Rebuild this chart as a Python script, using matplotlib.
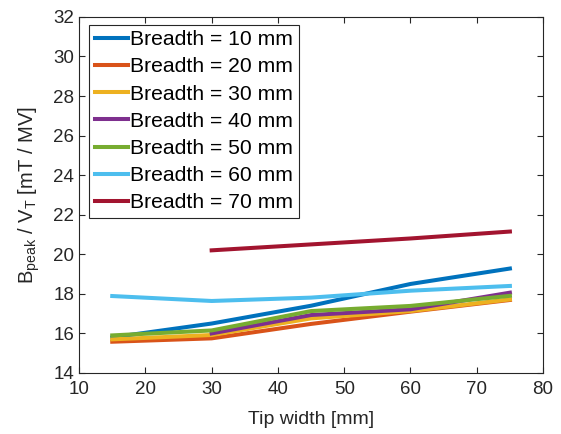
import numpy as np
import matplotlib
matplotlib.use("Agg")
import matplotlib.pyplot as plt

plt.rcParams['font.family'] = ['Liberation Sans', 'DejaVu Sans']
plt.rcParams['mathtext.fontset'] = 'custom'
plt.rcParams['mathtext.rm'] = 'Liberation Sans'
plt.rcParams['mathtext.it'] = 'Liberation Sans:italic'

# data
tip_width = [15, 30, 45, 60, 75]
b10 = [15.8, 16.5, 17.4, 18.5, 19.28]
b20 = [15.58, 15.75, 16.48, 17.1, 17.69]
b30 = [15.7, 15.92, 16.76, 17.13, 17.72]
b40 = [None, 16.0, 16.93, 17.22, 18.06]
b50 = [15.9, 16.15, 17.13, 17.39, 17.9]
b60 = [17.89, 17.64, 17.81, 18.16, 18.4]
b70 = [None, 20.2, 20.5, 20.8, 21.15]
series = [b10, b20, b30, b40, b50, b60, b70]
labels = ['Breadth = 10 mm', 'Breadth = 20 mm', 'Breadth = 30 mm',
          'Breadth = 40 mm', 'Breadth = 50 mm', 'Breadth = 60 mm',
          'Breadth = 70 mm']
colors = ['#0072BD', '#D95319', '#EDB120', '#7E2F8E', '#77AC30', '#4DBEEE', '#A2142F']

fig = plt.figure(figsize=(5.61, 4.34), dpi=100)
ax = fig.add_axes([0.141, 0.1406, 0.827, 0.8204])

for ys, lab, c in zip(series, labels, colors):
    x = [t for t, v in zip(tip_width, ys) if v is not None]
    y = [v for v in ys if v is not None]
    ax.plot(x, y, color=c, lw=2.9, label=lab)

ax.set_xlim(10, 80)
ax.set_ylim(14, 32)
ax.set_xticks(np.arange(10, 81, 10))
ax.set_yticks(np.arange(14, 33, 2))
ax.tick_params(direction='in', top=True, right=True, labelsize=13.5, length=4,
               color='#262626', labelcolor='#262626')
ax.tick_params(axis='x', pad=6)
for s in ax.spines.values():
    s.set_color('#262626')
    s.set_linewidth(0.8)
ax.set_xlabel('Tip width [mm]', fontsize=14, color='#262626', labelpad=9)
ax.set_ylabel(r'B$_{\mathrm{peak}}$ / V$_{\mathrm{T}}$ [mT / MV]', fontsize=14.5,
              color='#262626', labelpad=8)

leg = ax.legend(loc='upper left', fontsize=15.2, handlelength=1.6, handletextpad=0.1,
                labelspacing=0.39, borderpad=0.25, borderaxespad=0, fancybox=False,
                framealpha=1, edgecolor='#262626', bbox_to_anchor=(0.022, 0.978))
leg.get_frame().set_linewidth(0.8)

fig.savefig('out.png', dpi=100)
